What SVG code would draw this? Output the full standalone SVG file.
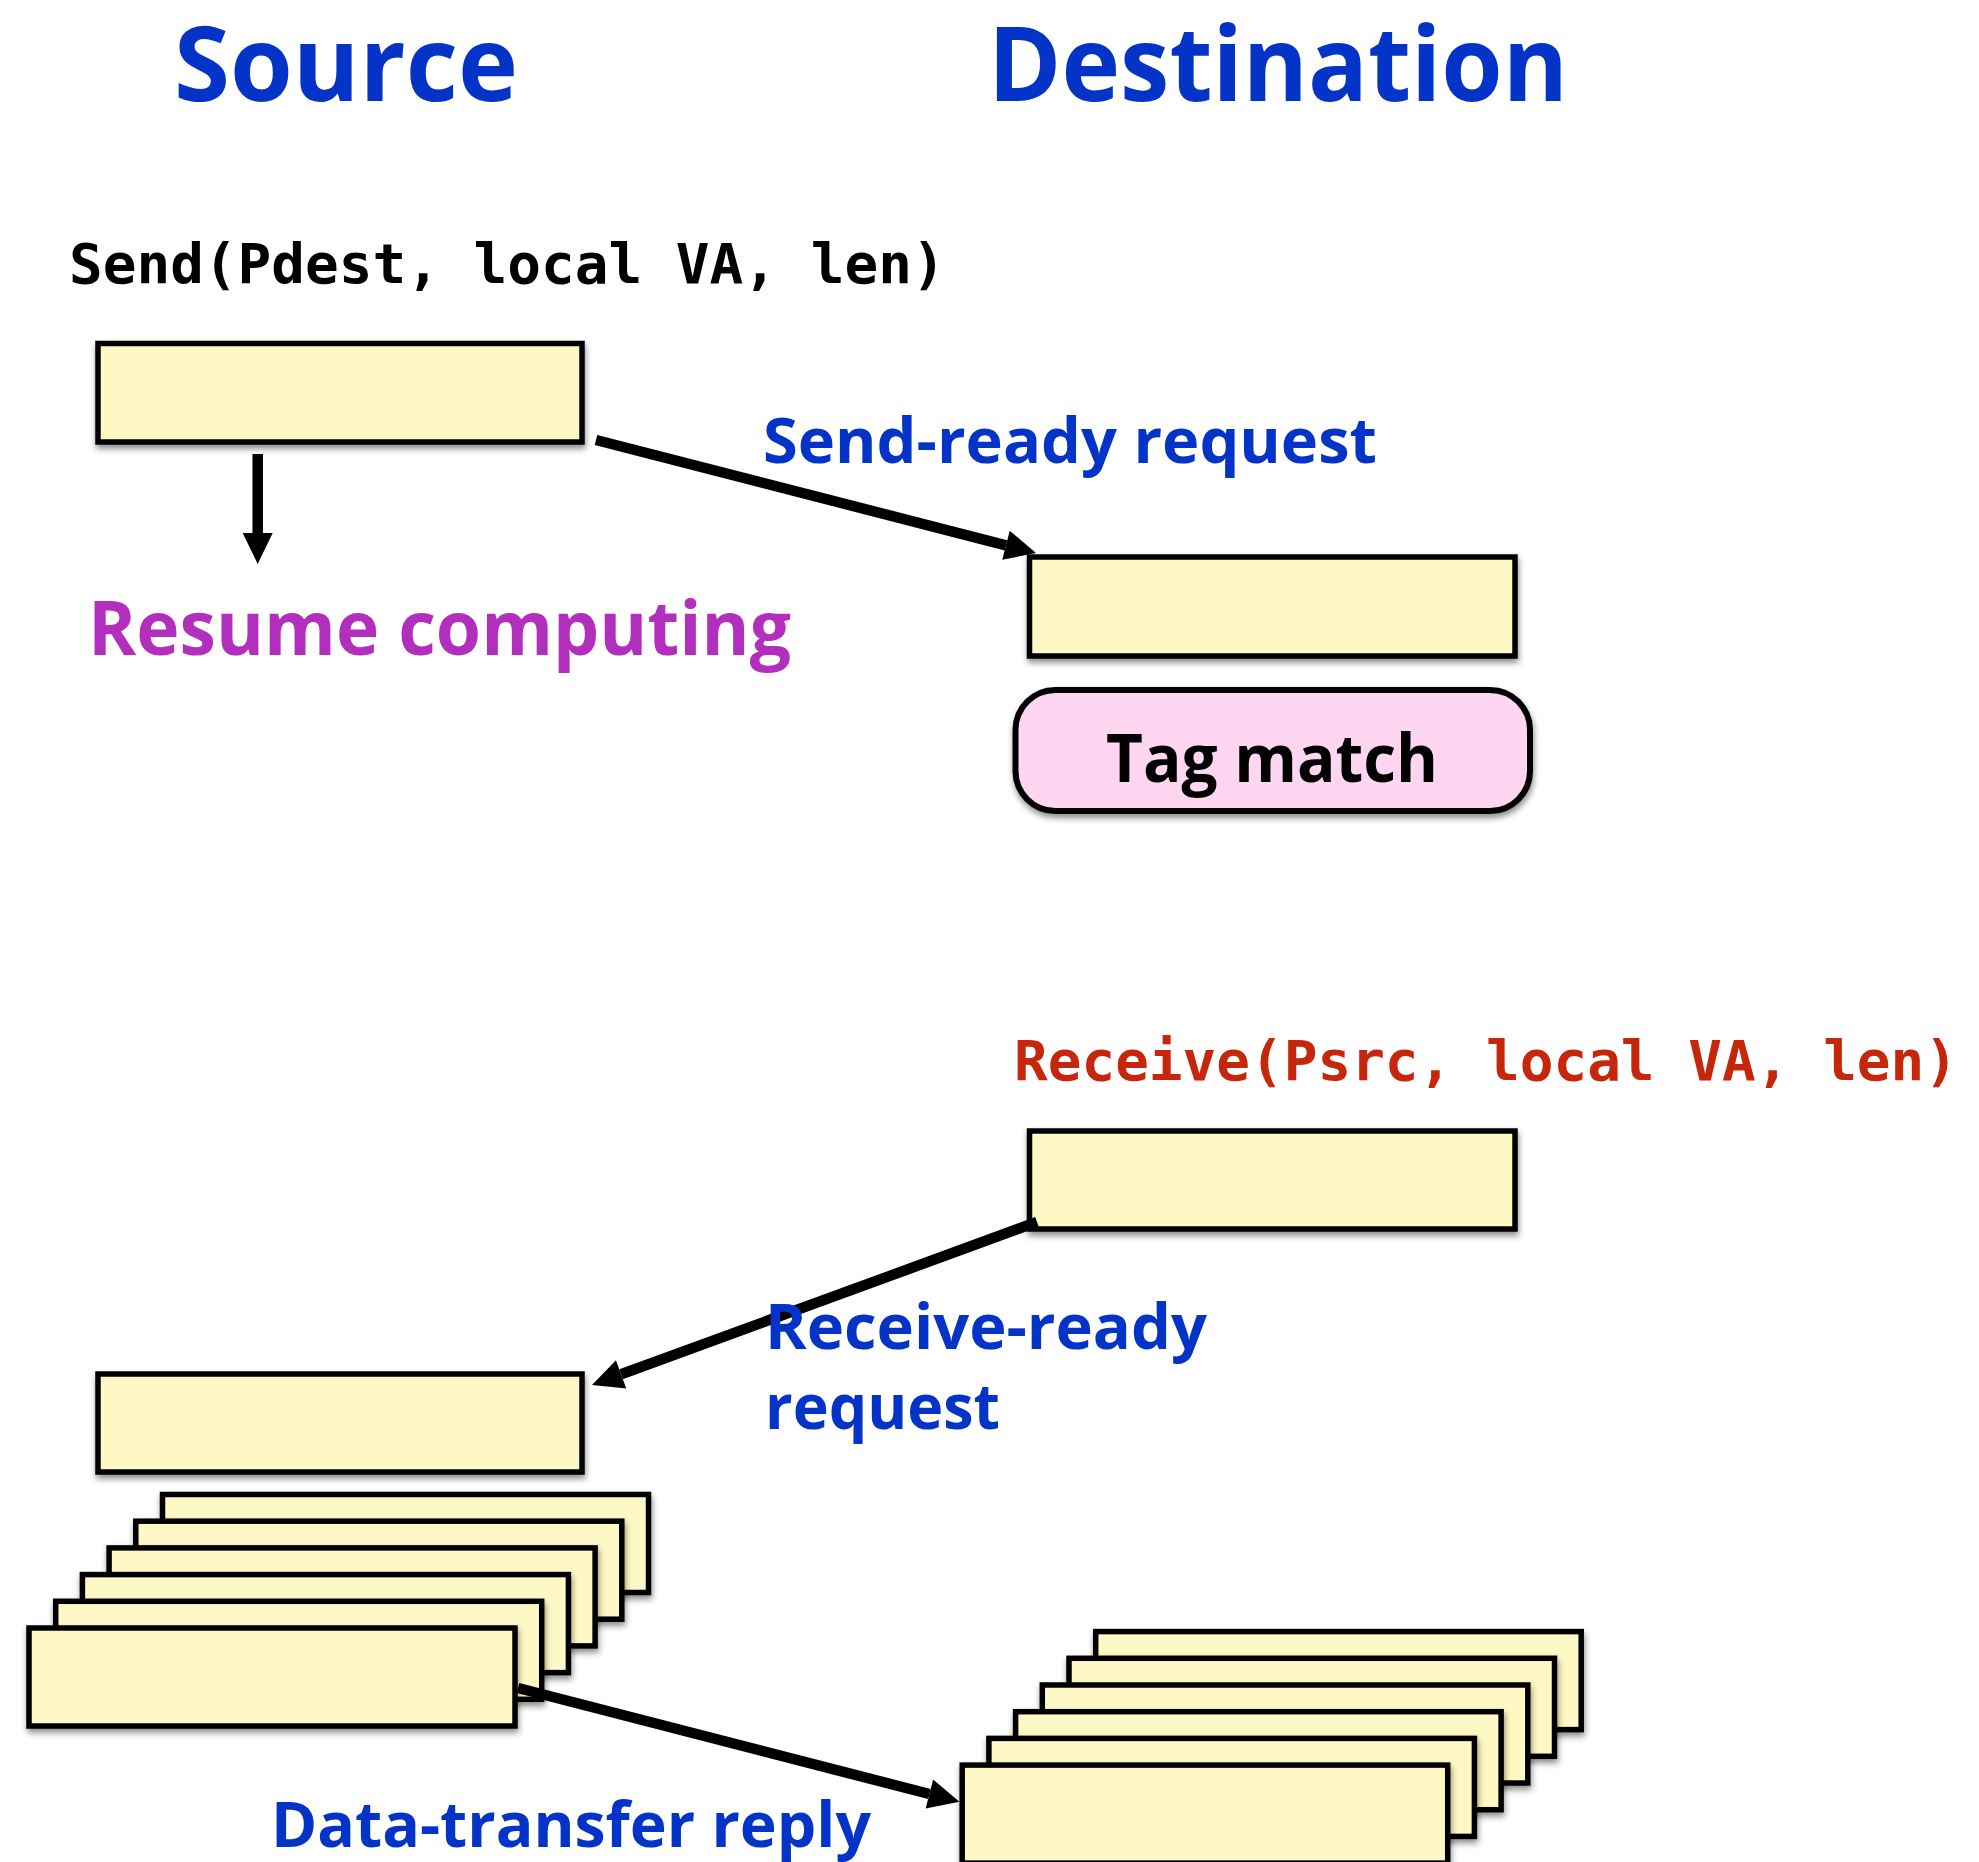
<svg xmlns="http://www.w3.org/2000/svg" width="1979" height="1862" viewBox="0 0 1979 1862">
  <style>
    .box { fill: #FEF9C4; stroke: #000; stroke-width: 5.5; filter: url(#shadow); }
    .tag { fill: #FED6F2; stroke: #000; stroke-width: 6; filter: url(#shadow); }
    .sans { font-family: "Open Sans", "Noto Sans", "DejaVu Sans", sans-serif; font-weight: 700; }
    .mono { font-family: "DejaVu Sans Mono", "Liberation Mono", monospace; font-weight: 700; font-size: 56px; }
    .title { fill: #0433C8; font-size: 104px; }
    .label { fill: #0433C8; font-size: 62px; }
    .conn { stroke: #000; stroke-width: 10.5; fill: none; marker-end: url(#head); }
  </style>
  <defs>
    <filter id="shadow" x="-10%" y="-20%" width="120%" height="150%">
      <feDropShadow dx="1" dy="4" stdDeviation="3" flood-color="#000" flood-opacity="0.45"/>
    </filter>
    <marker id="head" markerUnits="userSpaceOnUse" markerWidth="32" markerHeight="30" refX="0" refY="15" orient="auto" overflow="visible">
      <path d="M0,0 L31,15 L0,30 z" fill="#000"/>
    </marker>
  </defs>

  <rect width="1979" height="1862" fill="#fff"/>

  <!-- column headings -->
  <text class="sans title" x="174" y="101" textLength="344" lengthAdjust="spacingAndGlyphs">Source</text>
  <text class="sans title" x="988" y="101" textLength="580" lengthAdjust="spacingAndGlyphs">Destination</text>

  <!-- source: send call -->
  <g id="send-call">
    <text class="mono" x="69" y="283" fill="#000">Send(Pdest, local VA, len)</text>
    <rect class="box" x="98" y="343.5" width="484" height="98.5"/>
  </g>

  <g id="resume">
    <text class="sans" x="88" y="655" font-size="75" fill="#B22EBC" textLength="703" lengthAdjust="spacingAndGlyphs">Resume computing</text>
  </g>

  <!-- destination: request arrives -->
  <g id="dest-request">
    <rect class="box" x="1029.5" y="557" width="485.5" height="99"/>
  </g>

  <g id="tag-match">
    <rect class="tag" x="1015.5" y="690" width="514.5" height="121" rx="40" ry="40"/>
    <text class="sans" x="1272" y="782" font-size="66" fill="#000" text-anchor="middle" textLength="332" lengthAdjust="spacingAndGlyphs">Tag match</text>
  </g>

  <!-- destination: receive call -->
  <g id="receive-call">
    <text class="mono" x="1014" y="1080" fill="#C5260C">Receive(Psrc, local VA, len)</text>
    <rect class="box" x="1029.5" y="1131" width="485.5" height="98"/>
  </g>

  <!-- source: receive-ready arrives -->
  <g id="source-ready">
    <rect class="box" x="98" y="1374" width="484" height="98"/>
  </g>

  <!-- source: outgoing data packets -->
  <g id="source-data">
    <rect class="box" x="162.5" y="1494.5" width="486" height="98"/>
    <rect class="box" x="135.8" y="1521.2" width="486" height="98"/>
    <rect class="box" x="109.1" y="1547.9" width="486" height="98"/>
    <rect class="box" x="82.4" y="1574.6" width="486" height="98"/>
    <rect class="box" x="55.7" y="1601.3" width="486" height="98"/>
    <rect class="box" x="29" y="1628" width="486" height="98"/>
  </g>

  <!-- destination: incoming data packets -->
  <g id="dest-data">
    <rect class="box" x="1095.7" y="1631.6" width="485.5" height="98"/>
    <rect class="box" x="1069" y="1658.3" width="485.5" height="98"/>
    <rect class="box" x="1042.3" y="1685" width="485.5" height="98"/>
    <rect class="box" x="1015.6" y="1711.7" width="485.5" height="98"/>
    <rect class="box" x="988.9" y="1738.4" width="485.5" height="98"/>
    <rect class="box" x="962.2" y="1765.1" width="485.5" height="98"/>
  </g>

  <!-- connectors -->
  <g id="connectors">
    <line class="conn" x1="257.7" y1="454" x2="257.7" y2="533"/>
    <line class="conn" x1="596" y1="440" x2="1006" y2="545.3"/>
    <line class="conn" x1="1037" y1="1222" x2="621.1" y2="1374.3"/>
    <line class="conn" x1="518" y1="1688" x2="929.4" y2="1794"/>
  </g>

  <!-- connector labels -->
  <g id="labels">
    <text class="sans label" x="763" y="463" textLength="614" lengthAdjust="spacingAndGlyphs">Send-ready request</text>
    <text class="sans label" x="765" y="1349" textLength="442" lengthAdjust="spacingAndGlyphs">Receive-ready</text>
    <text class="sans label" x="765" y="1429" textLength="235" lengthAdjust="spacingAndGlyphs">request</text>
    <text class="sans label" x="271" y="1847" textLength="600" lengthAdjust="spacingAndGlyphs">Data-transfer reply</text>
  </g>
</svg>
